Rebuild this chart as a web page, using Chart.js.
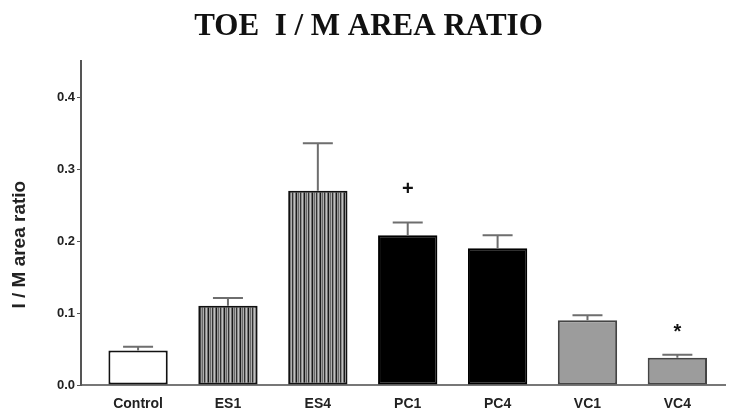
<!DOCTYPE html>
<html>
<head>
<meta charset="utf-8">
<script src="https://cdn.jsdelivr.net/npm/chart.js@4.4.0/dist/chart.umd.min.js"></script>
<style>
  html, body { margin: 0; padding: 0; background: #fff; }
  #wrap { width: 730px; height: 408px; }
</style>
</head>
<body>
<div id="wrap"><canvas id="toeChart"></canvas></div>
<script>
// Data
const categories = ['Control', 'ES1', 'ES4', 'PC1', 'PC4', 'VC1', 'VC4'];
const ratioMeans = [0.048, 0.110, 0.270, 0.208, 0.190, 0.090, 0.038];
const ratioErrors = [0.005, 0.011, 0.066, 0.018, 0.018, 0.007, 0.004];
const markerLabels = ['', '', '', '+', '', '', '*'];
const markerValues = [null, null, null, 0.272, null, null, 0.078];
const yTicks = [0, 0.1, 0.2, 0.3, 0.4];
const yTitle = 'I / M area ratio';

// Vertical stripe pattern for the ES bars
function stripePattern() {
    const c = document.createElement('canvas');
    c.width = 8; c.height = 4;
    const g = c.getContext('2d');
    const cols = ['#1a1a1a', '#9a9a9a', '#6a6a6a', '#b0b0b0', '#333333', '#8c8c8c', '#c0c0c0', '#707070'];
    cols.forEach((col, i) => { g.fillStyle = col; g.fillRect(i, 0, 1, 4); });
    return g.createPattern(c, 'repeat');
}
const stripes = stripePattern();
const barFills = ['#ffffff', stripes, stripes, '#000000', '#000000', '#9c9c9c', '#9c9c9c'];
const barBorders = ['#111', '#111', '#111', '#000', '#000', '#444', '#444'];

// Upward error bars, significance marks, and the y title (sits a bit below centre in the original)
const errorBarPlugin = {
    id: 'errorBars',
    afterDatasetsDraw(chart) {
        const ctx = chart.ctx;
        const x = chart.scales.x, y = chart.scales.y;
        ctx.save();
        ctx.strokeStyle = '#6e6e6e';
        ctx.lineWidth = 2;
        ratioMeans.forEach((m, i) => {
            const px = x.getPixelForValue(i);
            const top = y.getPixelForValue(m + ratioErrors[i]);
            ctx.beginPath();
            ctx.moveTo(px, y.getPixelForValue(m));
            ctx.lineTo(px, top);
            ctx.moveTo(px - 15, top);
            ctx.lineTo(px + 15, top);
            ctx.stroke();
        });
        ctx.fillStyle = '#111';
        ctx.textAlign = 'center';
        ctx.textBaseline = 'middle';
        ctx.font = 'bold 20px "Liberation Sans"';
        markerLabels.forEach((lab, i) => {
            if (!lab) return;
            ctx.fillText(lab, x.getPixelForValue(i), y.getPixelForValue(markerValues[i]) + (lab === '*' ? 4 : 0));
        });

        // y axis title
        ctx.translate(20, y.getPixelForValue(0.195));
        ctx.rotate(-Math.PI / 2);
        ctx.fillStyle = '#222';
        ctx.font = 'bold 19px "Liberation Sans"';
        ctx.fillText(yTitle, 0, 0);
        ctx.restore();
    }
};

new Chart(document.getElementById('toeChart'), {
    type: 'bar',
    data: {
        datasets: [{
            data: ratioMeans.map((v, i) => ({ x: i, y: v })),
            backgroundColor: barFills,
            borderColor: barBorders,
            borderWidth: 2,
            borderSkipped: false,
            barPercentage: 0.66,
            categoryPercentage: 1
        }]
    },
    options: {
        responsive: true,
        maintainAspectRatio: false,
        animation: false,
        layout: { padding: { left: 12, right: 5, top: 0, bottom: 0 } },
        plugins: {
            legend: { display: false },
            tooltip: { enabled: false },
            title: {
                display: true,
                text: 'TOE  I / M AREA RATIO',
                color: '#111',
                font: { family: '"Liberation Serif"', size: 31, weight: 'bold' },
                padding: { top: 8, bottom: 16 }
            }
        },
        scales: {
            x: {
                type: 'linear',
                offset: false,
                min: -0.635,
                max: 6.53,
                afterBuildTicks: s => { s.ticks = categories.map((c, i) => ({ value: i })); },
                afterFit: s => { s.height = 23; },
                ticks: {
                    callback: v => categories[v],
                    color: '#222',
                    padding: 11,
                    font: { family: '"Liberation Sans"', size: 14, weight: 'bold' },
                    maxRotation: 0
                },
                grid: { display: false, drawTicks: false },
                border: { color: '#777', width: 2 }
            },
            y: {
                min: 0,
                max: 0.45,
                afterBuildTicks: s => { s.ticks = yTicks.map(v => ({ value: v })); },
                afterFit: s => { s.width = 69; },
                ticks: {
                    callback: v => v.toFixed(1),
                    color: '#222',
                    padding: 2,
                    font: { family: '"Liberation Sans"', size: 13, weight: 'bold' }
                },
                grid: { drawOnChartArea: false, tickLength: 4, color: '#555' },
                border: { color: '#555', width: 2 }
            }
        }
    },
    plugins: [errorBarPlugin]
});
</script>
</body>
</html>
